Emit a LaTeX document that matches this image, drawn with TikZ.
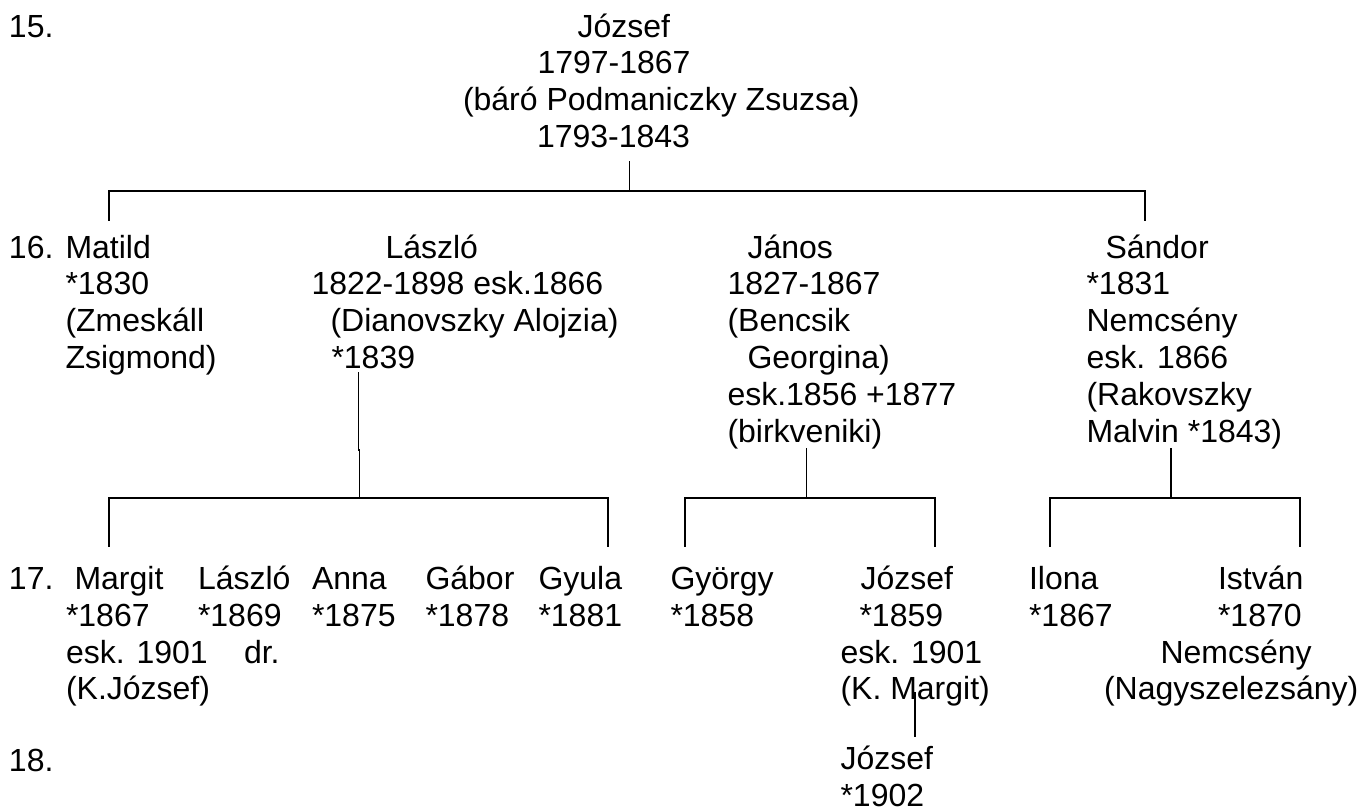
\documentclass[tikz,border=0pt]{standalone}
\usepackage{fontspec}
\setmainfont{Liberation Sans}
\begin{document}
\begin{tikzpicture}[x=1pt,y=-1pt,
  txt/.style={anchor=base west,inner sep=0pt,outer sep=0pt,align=left,
    font=\fontsize{32}{36.8}\selectfont},
  link/.style={line width=1.8pt,line cap=rect}]
\useasboundingbox (0,0) rectangle (1365,811);
% generation labels (anchor = baseline of the last line)
\node[txt] (g15) at (9,37) {15.};
\node[txt] (g16) at (9,258) {16.};
\node[txt] (g17) at (9,589.5) {17.};
\node[txt] (g18) at (9,771) {18.};
% generation 15
\node[txt] (jozsef) at (463,147.4) {\hspace*{114.5pt}József\\\hspace*{74.5pt}1797-1867\\(báró Podmaniczky Zsuzsa)\\\hspace*{74pt}1793-1843};
% generation 16
\node[txt] (matild) at (65.5,368.4) {Matild\\*1830\\(Zmeskáll\\Zsigmond)};
\node[txt] (laszlo) at (311.5,368.4) {\hspace*{74pt}László\\1822-1898 esk.1866\\\hspace*{19pt}(Dianovszky Alojzia)\\\hspace*{20pt}*1839};
\node[txt] (janos) at (727.5,442) {\hspace*{20pt}János\\1827-1867\\(Bencsik\\\hspace*{20pt}Georgina)\\esk.1856 +1877\\(birkveniki)};
\node[txt] (sandor) at (1086.5,442) {\hspace*{19pt}Sándor\\*1831\\Nemcsény\\esk. 1866\\(Rakovszky\\Malvin *1843)};
% generation 17
\node[txt] (margit) at (66,699.9) {\hspace*{8.5pt}Margit\\*1867\\esk. 1901\\(K.József)};
\node[txt] (laszlo2) at (198,663.1) {László\\*1869\\\hspace*{46pt}dr.};
\node[txt] (anna) at (312,626.3) {Anna\\*1875};
\node[txt] (gabor) at (425.5,626.3) {Gábor\\*1878};
\node[txt] (gyula) at (538.5,626.3) {Gyula\\*1881};
\node[txt] (gyorgy) at (670.5,626.3) {György\\*1858};
\node[txt] (jozsef2) at (840.5,699.9) {\hspace*{20pt}József\\\hspace*{19pt}*1859\\esk. 1901\\(K. Margit)};
\node[txt] (ilona) at (1029,626.3) {Ilona\\*1867};
\node[txt] (istvan) at (1104,699.9) {\hspace*{114pt}István\\\hspace*{114pt}*1870\\\hspace*{56.5pt}Nemcsény\\(Nagyszelezsány)};
% generation 18
\node[txt] (jozsef3) at (840.5,806.5) {József\\*1902};
% junction coordinates
\coordinate (j15) at (629.5,161.7);
\coordinate (b15) at (629.5,190.7);
\coordinate (b15l) at (109,190.7);
\coordinate (b15r) at (1145,190.7);
\coordinate (t16l) at (109,220);
\coordinate (t16r) at (1145,220);
\coordinate (lz) at (358.5,373);
\coordinate (lzk) at (358.5,450);
\coordinate (lzk2) at (359.5,450);
\coordinate (lzb) at (359.5,497.7);
\coordinate (lzl) at (109,497.7);
\coordinate (lzr) at (608,497.7);
\coordinate (lzlt) at (109,546);
\coordinate (lzrt) at (608,546);
\coordinate (jn) at (806.4,449);
\coordinate (jnb) at (806.4,497.7);
\coordinate (jnl) at (685,497.7);
\coordinate (jnr) at (935,497.7);
\coordinate (jnlt) at (685,546);
\coordinate (jnrt) at (935,546);
\coordinate (sd) at (1171,449);
\coordinate (sdb) at (1171,497.7);
\coordinate (sdl) at (1050,497.7);
\coordinate (sdr) at (1300,497.7);
\coordinate (sdlt) at (1050,546);
\coordinate (sdrt) at (1300,546);
\coordinate (jz) at (915,693);
\coordinate (jzb) at (915,736);
% connectors
\draw[link] (j15) -- (b15);
\draw[link] (t16l) -- (b15l) -- (b15r) -- (t16r);
\draw[link] (lz) -- (lzk);
\draw[link] (lzk2) -- (lzb);
\draw[link] (lzlt) -- (lzl) -- (lzr) -- (lzrt);
\draw[link] (jn) -- (jnb);
\draw[link] (jnlt) -- (jnl) -- (jnr) -- (jnrt);
\draw[link] (sd) -- (sdb);
\draw[link] (sdlt) -- (sdl) -- (sdr) -- (sdrt);
\draw[link] (jz) -- (jzb);
\end{tikzpicture}
\end{document}
